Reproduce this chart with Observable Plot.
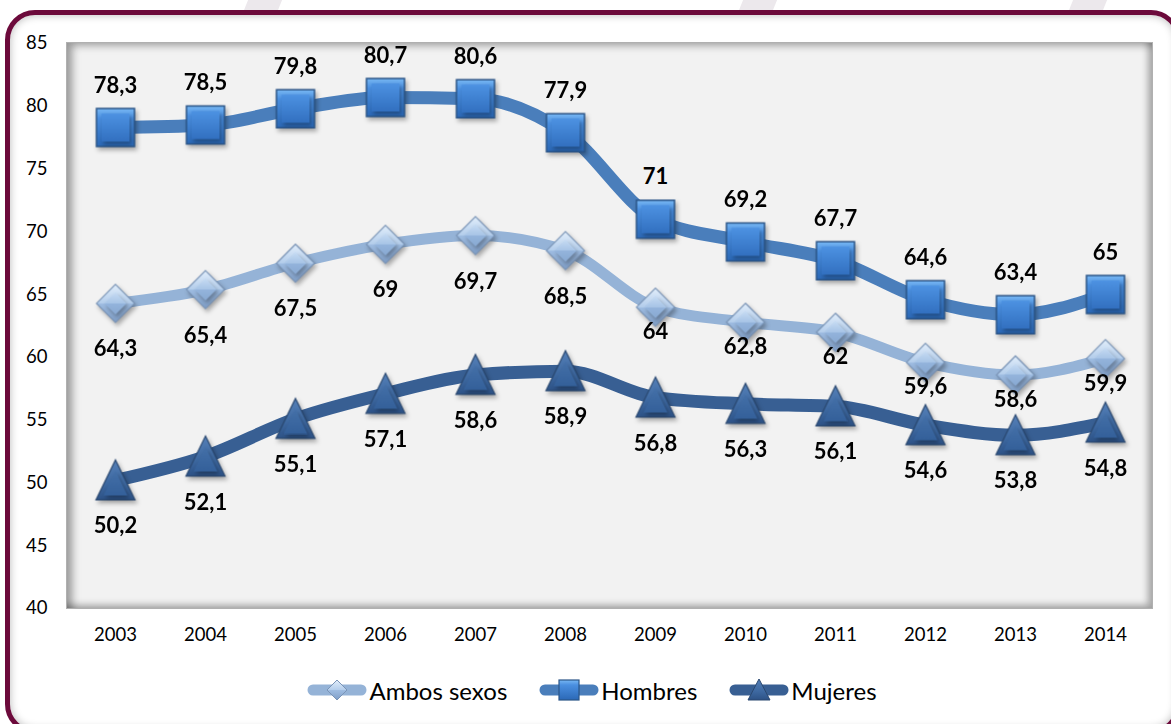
<!DOCTYPE html>
<html>
<head>
<meta charset="utf-8">
<script src="https://cdn.jsdelivr.net/npm/d3@7"></script>
<script src="https://cdn.jsdelivr.net/npm/@observablehq/plot@0.6"></script>
<style>
  html, body { margin: 0; padding: 0; background: #fff; overflow: hidden; }
  #root { position: relative; width: 1171px; height: 724px; overflow: hidden; background: #fff; font-family: Lato, "Open Sans", sans-serif; }
  .stripe { position: absolute; top: -40px; width: 34px; height: 120px; background: #ece8ec; transform: skewX(-22deg); }
  #frame { position: absolute; left: 5px; top: 10px; width: 1176px; height: 724px; box-sizing: border-box;
           border: 5px solid #6c0a3b; border-radius: 30px; background: #fff;
           box-shadow: inset 0 0 9px rgba(0,0,0,0.28); }
  #plotbg { position: absolute; left: 67px; top: 43px; width: 1085px; height: 565px; background: #f2f2f2;
            box-shadow: inset 7px 4px 8px -2px rgba(0,0,0,0.38), inset -6px -5px 7px -2px rgba(0,0,0,0.32);
            outline: 1px solid #b0b0b0; }
  #chart { position: absolute; left: 0; top: 0; }
  #legend { position: absolute; left: 0; top: 675px; width: 1184px; height: 30px; display: flex; justify-content: center; align-items: center; gap: 32px; }
  .item { display: flex; align-items: center; gap: 2px; font-size: 24px; color: #000; }
</style>
</head>
<body>
<div id="root">
  <div class="stripe" style="left:240px"></div>
  <div class="stripe" style="left:735px"></div>
  <div class="stripe" style="left:1065px"></div>
  <div id="frame"></div>
  <div id="plotbg"></div>
  <svg width="0" height="0" style="position:absolute">
    <defs>
      <linearGradient id="gSq" x1="0" y1="0" x2="0" y2="1">
        <stop offset="0" stop-color="#78b8f4"/>
        <stop offset="0.25" stop-color="#4a8fe0"/>
        <stop offset="1" stop-color="#2b68b6"/>
      </linearGradient>
      <linearGradient id="gSqIn" x1="0" y1="0" x2="0" y2="1">
        <stop offset="0" stop-color="#4d92e2"/>
        <stop offset="1" stop-color="#3270c0"/>
      </linearGradient>
      <linearGradient id="gDi" x1="0" y1="0" x2="0" y2="1">
        <stop offset="0" stop-color="#e2eefb"/>
        <stop offset="0.5" stop-color="#b3cdeb"/>
        <stop offset="0.5" stop-color="#9fbde2"/>
        <stop offset="1" stop-color="#7f9ec7"/>
      </linearGradient>
      <linearGradient id="gDiIn" x1="0" y1="0" x2="0" y2="1">
        <stop offset="0" stop-color="#c6dbf3"/>
        <stop offset="0.5" stop-color="#a7c4e6"/>
        <stop offset="0.5" stop-color="#94b4dc"/>
        <stop offset="1" stop-color="#88a9d2"/>
      </linearGradient>
      <linearGradient id="gTr" x1="0" y1="0" x2="0" y2="1">
        <stop offset="0" stop-color="#5580b8"/>
        <stop offset="0.6" stop-color="#3d68a0"/>
        <stop offset="1" stop-color="#2d5286"/>
      </linearGradient>
      <linearGradient id="gTrIn" x1="0" y1="0" x2="0" y2="1">
        <stop offset="0" stop-color="#4470a8"/>
        <stop offset="1" stop-color="#34609a"/>
      </linearGradient>
    </defs>
  </svg>
  <div id="chart"></div>
  <div id="legend"></div>
</div>
<script>
// ---- Data ----
const years = [2003, 2004, 2005, 2006, 2007, 2008, 2009, 2010, 2011, 2012, 2013, 2014];
const ambos = [64.3, 65.4, 67.5, 69, 69.7, 68.5, 64, 62.8, 62, 59.6, 58.6, 59.9];
const hombres = [78.3, 78.5, 79.8, 80.7, 80.6, 77.9, 71, 69.2, 67.7, 64.6, 63.4, 65];
const mujeres = [50.2, 52.1, 55.1, 57.1, 58.6, 58.9, 56.8, 56.3, 56.1, 54.6, 53.8, 54.8];
const seriesNames = ["Ambos sexos", "Hombres", "Mujeres"];
const yTicks = [40, 45, 50, 55, 60, 65, 70, 75, 80, 85];

const rows = (vals) => years.map((year, i) => ({year, value: vals[i]}));
const A = rows(ambos), H = rows(hombres), M = rows(mujeres);
const fmt = v => String(v).replace(".", ",");

// custom symbols sized by r = sqrt(size/pi)
const symSquare = {draw(ctx, size) { const r = Math.sqrt(size / Math.PI); ctx.moveTo(-r, -r); ctx.lineTo(r, -r); ctx.lineTo(r, r); ctx.lineTo(-r, r); ctx.closePath(); }};
const symDiamond = {draw(ctx, size) { const r = Math.sqrt(size / Math.PI); ctx.moveTo(0, -r); ctx.lineTo(r, 0); ctx.lineTo(0, r); ctx.lineTo(-r, 0); ctx.closePath(); }};
const symTriangle = {draw(ctx, size) { const r = Math.sqrt(size / Math.PI); ctx.moveTo(0, -r * 1.05); ctx.lineTo(r, r); ctx.lineTo(-r, r); ctx.closePath(); }};

const colA = "#95b3d7", colH = "#4a7ebb", colM = "#385f93";
const labelStyle = {fontWeight: "bold", fontSize: 22, fill: "#000"};

const chart = Plot.plot({
  width: 1171,
  height: 660,
  marginLeft: 67,
  marginRight: 19,
  marginTop: 43,
  marginBottom: 52,
  style: {background: "transparent", fontFamily: "Lato, 'Open Sans', sans-serif", fontSize: "18.5px", color: "#000", overflow: "visible"},
  x: {type: "point", domain: years, padding: 0.5, label: null},
  y: {domain: [40, 85], label: null},
  marks: [
    Plot.axisY({ticks: yTicks, tickSize: 0, tickPadding: 20, label: null, fontSize: 18.5}),
    Plot.axisX({tickSize: 0, tickPadding: 19, tickFormat: d => String(d), label: null, fontSize: 18.5}),
    Plot.line(A, {x: "year", y: "value", stroke: colA, strokeWidth: 11, curve: "monotone-x"}),
    Plot.line(H, {x: "year", y: "value", stroke: colH, strokeWidth: 13, curve: "monotone-x"}),
    Plot.line(M, {x: "year", y: "value", stroke: colM, strokeWidth: 13, curve: "monotone-x"}),
    Plot.dot(A, {x: "year", y: "value", r: 19, symbol: symDiamond, fill: "url(#gDi)", stroke: "#7a94b6", strokeWidth: 1.2}),
    Plot.dot(A, {x: "year", y: "value", r: 11, symbol: symDiamond, fill: "url(#gDiIn)"}),
    Plot.dot(H, {x: "year", y: "value", r: 19, symbol: symSquare, fill: "url(#gSq)", stroke: "#2b5588", strokeWidth: 1.5}),
    Plot.dot(H, {x: "year", y: "value", r: 14, symbol: symSquare, fill: "url(#gSqIn)"}),
    Plot.dot(M, {x: "year", y: "value", r: 19.5, symbol: symTriangle, fill: "url(#gTr)", stroke: "#2a4870", strokeWidth: 1.2}),
    Plot.dot(M, {x: "year", y: "value", r: 12, symbol: symTriangle, dy: 3, fill: "url(#gTrIn)"}),
    Plot.text(H, {x: "year", y: "value", text: d => fmt(d.value), dy: -42, ...labelStyle}),
    Plot.text(A.filter(d => d.year < 2009), {x: "year", y: "value", text: d => fmt(d.value), dy: 46, ...labelStyle}),
    Plot.text(A.filter(d => d.year >= 2009), {x: "year", y: "value", text: d => fmt(d.value), dy: 25, ...labelStyle}),
    Plot.text(M, {x: "year", y: "value", text: d => fmt(d.value), dy: 46, ...labelStyle})
  ]
});
chart.querySelectorAll('g[aria-label="dot"]').forEach(g => g.style.filter = "drop-shadow(2px 3px 2px rgba(0,0,0,0.3))");
chart.querySelectorAll('g[aria-label="line"] path').forEach(p => p.setAttribute("stroke-linejoin", "round"));
document.getElementById("chart").appendChild(chart);

// ---- Legend ----
const legendDefs = [
  {name: seriesNames[0], color: colA, shape: '<path d="M30,3 L40,13 L30,23 L20,13 Z" fill="url(#gDi)" stroke="#7a94b6" stroke-width="1"/>'},
  {name: seriesNames[1], color: colH, shape: '<rect x="20" y="3" width="20" height="20" fill="url(#gSq)" stroke="#2b5588" stroke-width="1.2"/>'},
  {name: seriesNames[2], color: colM, shape: '<path d="M30,2 L41,23 L19,23 Z" fill="url(#gTr)" stroke="#2a4870" stroke-width="1"/>'}
];
const legend = document.getElementById("legend");
legendDefs.forEach(d => {
  const item = document.createElement("div");
  item.className = "item";
  item.innerHTML = `<svg width="60" height="26" style="overflow:visible"><line x1="6" x2="54" y1="13" y2="13" stroke="${d.color}" stroke-width="11" stroke-linecap="round"/>${d.shape}</svg><span>${d.name}</span>`;
  legend.appendChild(item);
});
</script>
</body>
</html>
